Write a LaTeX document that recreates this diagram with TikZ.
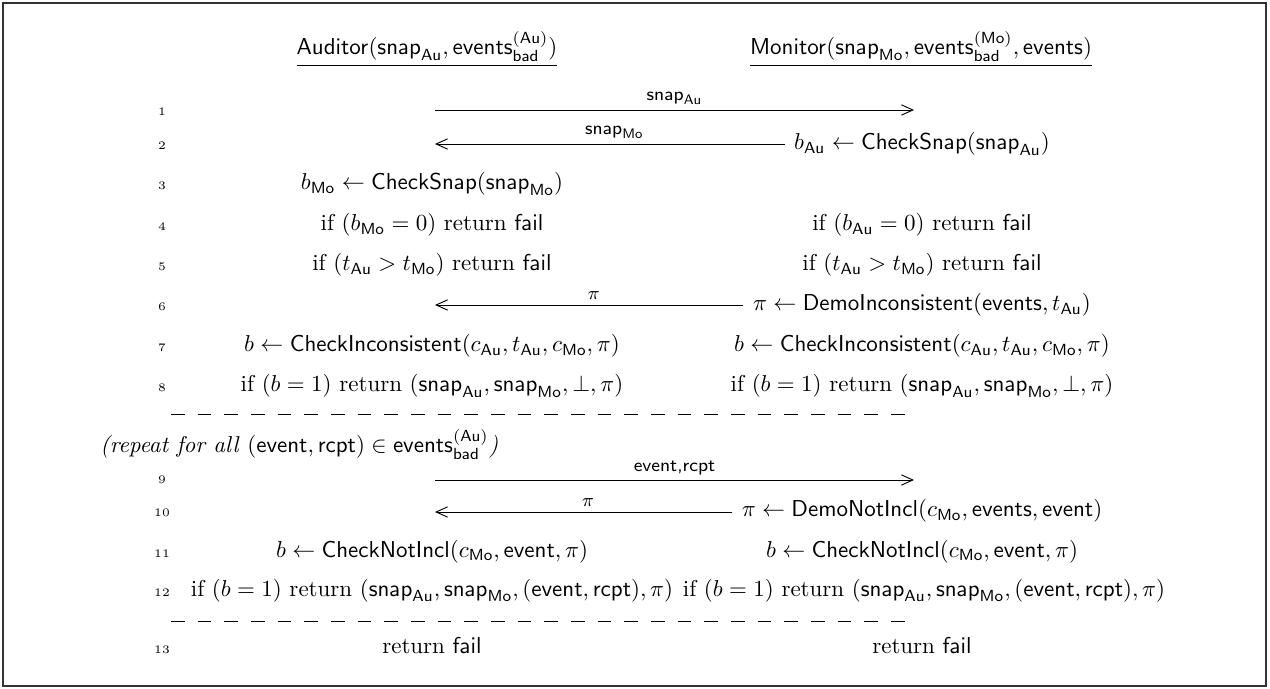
\documentclass[tikz,border=0pt]{standalone}
\usepackage{amsmath}
\usepackage{amssymb}
\usetikzlibrary{arrows.meta}

\newcommand{\snapof}[1]{\mathsf{snap}_{\mathsf{#1}}}
\newcommand{\evbad}[1]{\mathsf{events}_{\mathsf{bad}}^{(\mathsf{#1})}}

\begin{document}
\begin{tikzpicture}[
    x=0.435pt, y=-0.435pt,
    msg/.style={->, >={Straight Barb[length=5pt,width=4.5pt]}},
    lbl/.style={above, font=\footnotesize, inner sep=2pt},
    step text/.style={anchor=base, inner sep=0pt},
    lineno/.style={anchor=base, inner sep=0pt, font=\tiny},
    sepline/.style={dash pattern=on 6pt off 5.6pt},
    every node/.style={color=black}
    ]
\useasboundingbox (0,0) rectangle (1270,689);
\draw[black!80, line width=0.5pt] (3,3) rectangle (1266,686);

% parties
\node[step text] (audh) at (427,55) {$\underline{\mathsf{Auditor}(\snapof{Au}, \evbad{Au})}$};
\node[step text] (monh) at (921,55) {$\underline{\mathsf{Monitor}(\snapof{Mo}, \evbad{Mo}, \mathsf{events})}$};

% line numbers
\foreach \n/\y in {1/116,2/150,3/190,4/231,5/271,6/311,7/352,8/392,9/483,10/517,11/557,12/596,13/653}
  \node[lineno] (ln\n) at (162,\y) {\n};

% 1
\coordinate (s1) at (435,110);
\coordinate (e1) at (914,110);
\draw[msg] (s1) -- node[lbl]{$\snapof{Au}$} (e1);
% 2
\node[step text] (mo2) at (922,150) {$b_{\mathsf{Au}} \leftarrow \mathsf{CheckSnap}(\snapof{Au})$};
\coordinate (e2) at (435,144);
\draw[msg, shorten <=4pt] (mo2.west |- e2) -- node[lbl]{$\snapof{Mo}$} (e2);
% 3
\node[step text] (au3) at (432,190) {$b_{\mathsf{Mo}} \leftarrow \mathsf{CheckSnap}(\snapof{Mo})$};
% 4, 5
\node[step text] (au4) at (432,231) {if $(b_{\mathsf{Mo}} = 0)$ return $\mathsf{fail}$};
\node[step text] (mo4) at (922,231) {if $(b_{\mathsf{Au}} = 0)$ return $\mathsf{fail}$};
\node[step text] (au5) at (432,271) {if $(t_{\mathsf{Au}} > t_{\mathsf{Mo}})$ return $\mathsf{fail}$};
\node[step text] (mo5) at (922,271) {if $(t_{\mathsf{Au}} > t_{\mathsf{Mo}})$ return $\mathsf{fail}$};
% 6
\node[step text] (mo6) at (922,311) {$\pi \leftarrow \mathsf{DemoInconsistent}(\mathsf{events}, t_{\mathsf{Au}})$};
\coordinate (e6) at (435,305);
\draw[msg, shorten <=4pt] (mo6.west |- e6) -- node[lbl]{$\pi$} (e6);
% 7, 8
\node[step text] (au7) at (432,352) {$b \leftarrow \mathsf{CheckInconsistent}(c_{\mathsf{Au}}, t_{\mathsf{Au}}, c_{\mathsf{Mo}}, \pi)$};
\node[step text] (mo7) at (922,352) {$b \leftarrow \mathsf{CheckInconsistent}(c_{\mathsf{Au}}, t_{\mathsf{Au}}, c_{\mathsf{Mo}}, \pi)$};
\node[step text] (au8) at (432,392) {if $(b = 1)$ return $(\snapof{Au}, \snapof{Mo}, \bot, \pi)$};
\node[step text] (mo8) at (922,392) {if $(b = 1)$ return $(\snapof{Au}, \snapof{Mo}, \bot, \pi)$};

\draw[sepline] (171,414) -- (915,414);

\node[step text, anchor=base west] (rep) at (100,453) {\textit{(repeat for all} $(\mathsf{event}, \mathsf{rcpt}) \in \evbad{Au}$\textit{)}};

% 9
\coordinate (s9) at (435,480);
\coordinate (e9) at (914,480);
\draw[msg] (s9) -- node[lbl]{\textsf{event,rcpt}} (e9);
% 10
\node[step text] (mo10) at (922,517) {$\pi \leftarrow \mathsf{DemoNotIncl}(c_{\mathsf{Mo}}, \mathsf{events}, \mathsf{event})$};
\coordinate (e10) at (435,512);
\draw[msg, shorten <=4pt] (mo10.west |- e10) -- node[lbl]{$\pi$} (e10);
% 11, 12
\node[step text] (au11) at (432,557) {$b \leftarrow \mathsf{CheckNotIncl}(c_{\mathsf{Mo}}, \mathsf{event}, \pi)$};
\node[step text] (mo11) at (922,557) {$b \leftarrow \mathsf{CheckNotIncl}(c_{\mathsf{Mo}}, \mathsf{event}, \pi)$};
\node[step text] (au12) at (432,596) {if $(b = 1)$ return $(\snapof{Au}, \snapof{Mo}, (\mathsf{event}, \mathsf{rcpt}), \pi)$};
\node[step text] (mo12) at (924,596) {if $(b = 1)$ return $(\snapof{Au}, \snapof{Mo}, (\mathsf{event}, \mathsf{rcpt}), \pi)$};

\draw[sepline] (171,621) -- (915,621);

% 13
\node[step text] (au13) at (432,653) {return $\mathsf{fail}$};
\node[step text] (mo13) at (922,653) {return $\mathsf{fail}$};
\end{tikzpicture}
\end{document}
